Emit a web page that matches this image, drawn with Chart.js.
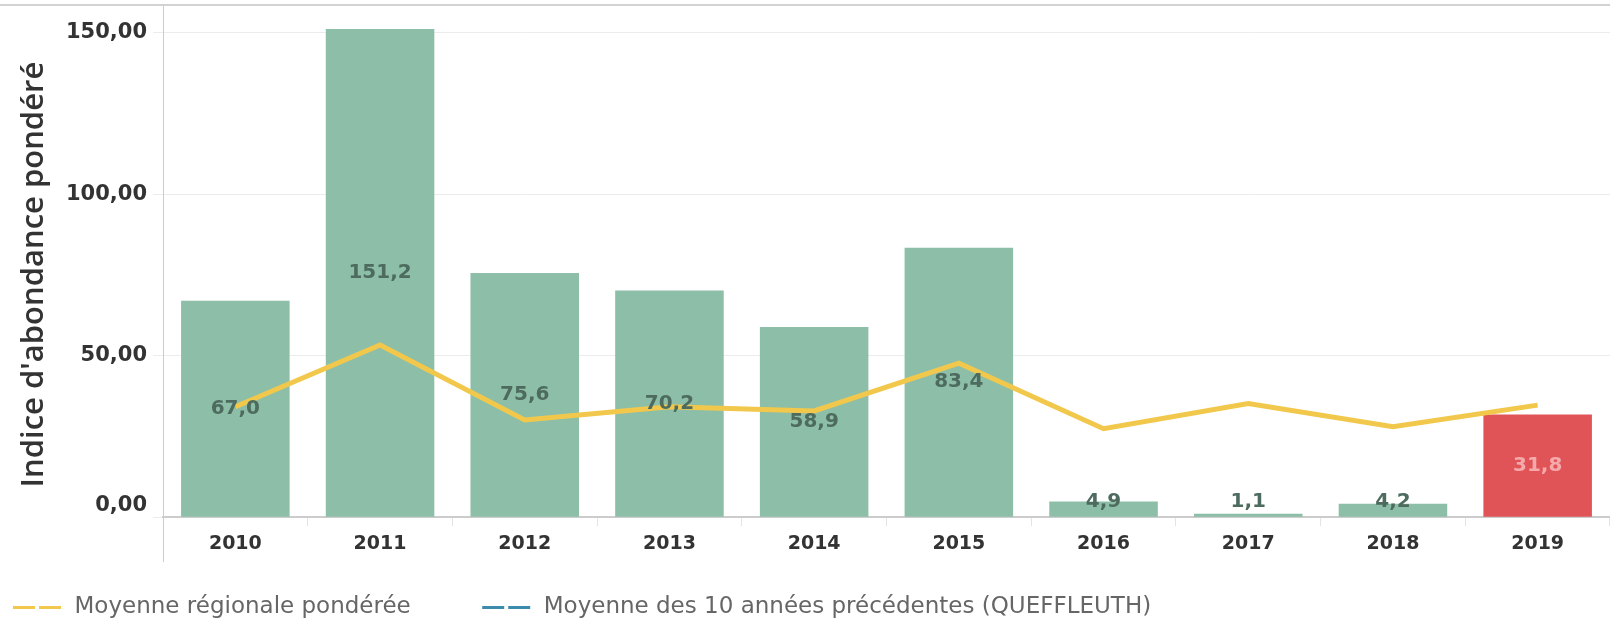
<!DOCTYPE html>
<html>
<head>
<meta charset="utf-8">
<script src="https://cdn.jsdelivr.net/npm/chart.js@4"></script>
<style>
  body { margin: 0; background: #fff; }
  #wrap { width: 1610px; height: 621px; position: relative; }
</style>
</head>
<body>
<div id="wrap"><canvas id="mc"></canvas></div>
<script>
const years = ['2010', '2011', '2012', '2013', '2014', '2015', '2016', '2017', '2018', '2019'];
const abundance = [67.0, 151.2, 75.6, 70.2, 58.9, 83.4, 4.9, 1.1, 4.2, 31.8];
const regionalAvg = [34.2, 53.3, 30.1, 34.2, 32.9, 47.7, 27.4, 35.2, 28.0, 34.7];
const tenYearAvg = [];
const yTicks = [0, 50, 100, 150];

const green = '#8dbea8';
const red = '#e05458';
const yellow = '#f1c84b';
const blue = '#3d8bab';

const fr = (v, n) => v.toFixed(n).replace('.', ',');
const tickFont = 'bold 21px "DejaVu Sans"';

// labels in the middle of the bars, pushed up a bit for the tiny ones
const barLabels = {
    id: 'barLabels',
    afterDatasetsDraw(chart) {
        const meta = chart.getDatasetMeta(0);
        const g = chart.ctx;
        g.save();
        g.font = 'bold 20px "DejaVu Sans"';
        g.textAlign = 'center';
        g.textBaseline = 'middle';
        meta.data.forEach((el, i) => {
            const y = Math.min((el.y + el.base) / 2, el.base - 15);
            g.fillStyle = i === abundance.length - 1 ? '#f5a9aa' : '#4d6b5e';
            g.fillText(fr(abundance[i], 1), el.x, y);
        });
        g.restore();
    }
};

// frame line on top, y axis running below the x axis, lifted "0,00" label
const frame = {
    id: 'frame',
    afterLayout(chart) {
        chart.legend.top += 8;
        chart.legend.bottom += 8;
        // title sits a bit lower than the middle of the plot
        chart.scales.y.bottom += 27;
    },
    afterDraw(chart) {
        const g = chart.ctx;
        const a = chart.chartArea;
        const y = chart.scales.y;
        g.save();
        g.strokeStyle = '#d2d2d2';
        g.lineWidth = 2;
        g.beginPath();
        g.moveTo(0, a.top);
        g.lineTo(chart.width, a.top);
        g.stroke();
        g.strokeStyle = '#cccccc';
        g.lineWidth = 1;
        g.beginPath();
        g.moveTo(a.left + 0.5, a.bottom);
        g.lineTo(a.left + 0.5, 562);
        g.stroke();
        g.font = tickFont;
        g.fillStyle = '#333';
        g.textAlign = 'right';
        g.textBaseline = 'middle';
        g.fillText(fr(yTicks[0], 2), a.left - 16, y.getPixelForValue(yTicks[0]) - 12);
        g.restore();
    }
};

const data = {
    labels: years,
    datasets: [{
        type: 'bar',
        label: 'Indice',
        data: abundance,
        backgroundColor: abundance.map((v, i) => i === abundance.length - 1 ? red : green),
        barPercentage: 0.75,
        categoryPercentage: 1,
        order: 2
    }, {
        type: 'line',
        label: 'Moyenne régionale pondérée',
        data: regionalAvg,
        borderColor: yellow,
        borderWidth: 5,
        pointRadius: 0,
        tension: 0,
        order: 1
    }, {
        type: 'line',
        label: 'Moyenne des 10 années précédentes (QUEFFLEUTH)',
        data: tenYearAvg,
        borderColor: blue,
        borderWidth: 3,
        pointRadius: 0,
        order: 1
    }]
};

const config = {
    data: data,
    options: {
        responsive: true,
        maintainAspectRatio: false,
        animation: false,
        layout: { padding: { top: 5, right: 0, left: 0, bottom: 0 } },
        plugins: {
            tooltip: { enabled: false },
            legend: {
                position: 'bottom',
                align: 'start',
                labels: {
                    usePointStyle: true,
                    pointStyleWidth: 50,
                    padding: 13,
                    color: '#666',
                    font: { family: '"DejaVu Sans"', size: 23 },
                    generateLabels(chart) {
                        return chart.data.datasets.slice(1).map((ds, k) => ({
                            text: k === 0 ? ds.label + '\u00a0'.repeat(8) : ds.label,
                            fillStyle: ds.borderColor,
                            strokeStyle: ds.borderColor,
                            lineWidth: 3,
                            lineDash: [22, 4],
                            pointStyle: 'line',
                            fontColor: '#666',
                            hidden: false,
                            datasetIndex: k + 1
                        }));
                    }
                }
            }
        },
        scales: {
            x: {
                afterFit(s) { s.height += 14; },
                grid: { offset: true, drawOnChartArea: false, tickLength: 9, color: '#e4e4e4' },
                border: { color: '#cccccc', width: 2 },
                ticks: {
                    color: '#333',
                    padding: 6,
                    font: { family: '"DejaVu Sans"', size: 19, weight: 'bold' }
                }
            },
            y: {
                min: 0,
                max: 158.6,
                afterBuildTicks(s) { s.ticks = yTicks.map(v => ({ value: v })); },
                afterFit(s) {
                    s.width = 163;
                    s.paddingTop = 0;
                    s.paddingBottom = 0;
                },
                grid: { color: '#ececec', tickLength: 10 },
                border: { color: '#cccccc' },
                ticks: {
                    color: '#333',
                    padding: 6,
                    font: { family: '"DejaVu Sans"', size: 21, weight: 'bold' },
                    // the 0 label is drawn a little higher by the frame plugin
                    callback: v => v === 0 ? '' : fr(v, 2)
                },
                title: {
                    display: true,
                    text: "Indice d'abondance pondéré",
                    color: '#333',
                    padding: { top: 16, bottom: 0 },
                    font: { family: '"Open Sans"', size: 31, weight: '600' }
                }
            }
        }
    },
    plugins: [barLabels, frame]
};

new Chart(document.getElementById('mc'), config);
</script>
</body>
</html>
